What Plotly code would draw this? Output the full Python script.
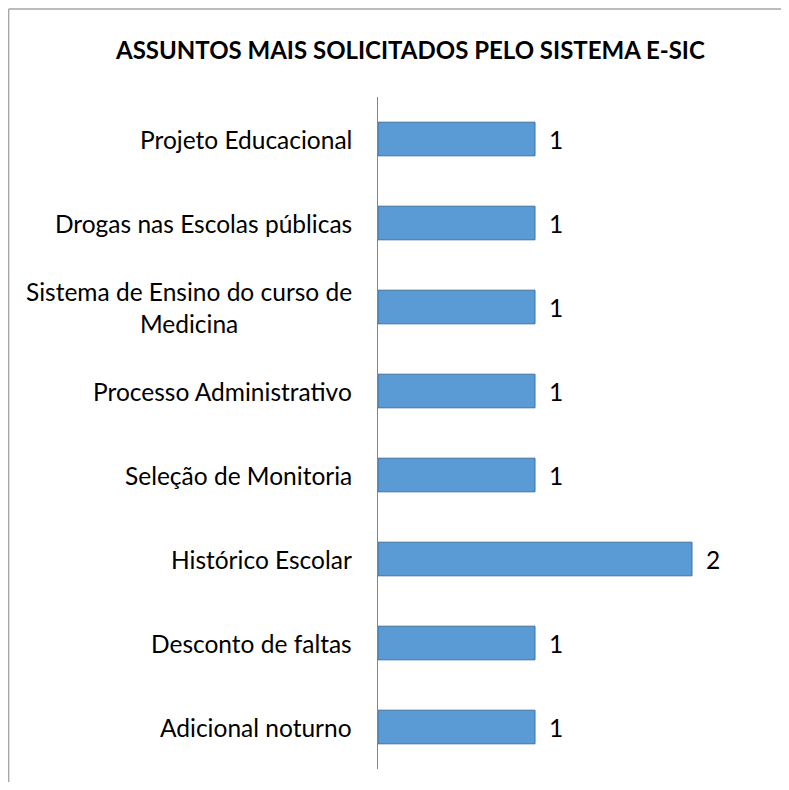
import plotly.graph_objects as go

categories = [
    "Projeto Educacional",
    "Drogas nas Escolas públicas",
    "Sistema de Ensino do curso de<br>Medicina",
    "Processo Administrativo",
    "Seleção de Monitoria",
    "Histórico Escolar",
    "Desconto de faltas",
    "Adicional noturno",
]
values = [1, 1, 1, 1, 1, 2, 1, 1]
title_text = "ASSUNTOS MAIS SOLICITADOS PELO SISTEMA E-SIC"

# page body has an 8px margin, so the figure is drawn 8px in from the window edge
OFF = 8
W, H = 789 - 2 * OFF, 790 - 2 * OFF
L = 378 - OFF
T = 97 - OFF
R = 3
B = H - (769 - OFF)
plot_w = W - L - R
plot_h = H - T - B
px_per_unit = 157.0
xmax = plot_w / px_per_unit

FONT = "Lato"
FS = 24.5
FS_TITLE = 24

fig = go.Figure()
fig.add_trace(go.Bar(
    y=categories,
    x=values,
    orientation="h",
    marker=dict(color="#5b9bd5", line=dict(color="#41719c", width=1)),
    hoverinfo="x+y",
))

annotations = []
for c, v in zip(categories, values):
    annotations.append(dict(
        x=0, y=c, xref="x", yref="y", text=c, showarrow=False,
        xanchor="right", yanchor="middle", align="center", xshift=-24,
        font=dict(family=FONT, size=FS, color="#000000"),
    ))
    annotations.append(dict(
        x=v, y=c, xref="x", yref="y", text=str(v), showarrow=False,
        xanchor="left", yanchor="middle", xshift=12,
        font=dict(family=FONT, size=FS, color="#000000"),
    ))

annotations.append(dict(
    x=(410 - OFF - L) / plot_w, y=1 + (T - (50 - OFF)) / plot_h, xref="paper", yref="paper",
    text="<b>" + title_text + "</b>", showarrow=False,
    xanchor="center", yanchor="middle",
    font=dict(family=FONT, size=FS_TITLE, color="#000000"),
))

left_x = (0.6 - L) / plot_w
top_y = 1 + (T - 1.0) / plot_h

fig.update_layout(
    width=W, height=H,
    margin=dict(l=L, r=R, t=T, b=B, pad=0),
    paper_bgcolor="white", plot_bgcolor="white",
    showlegend=False,
    bargap=0.6,
    xaxis=dict(range=[0, xmax], visible=False, showgrid=False, zeroline=False, fixedrange=True),
    yaxis=dict(
        categoryorder="array", categoryarray=categories, autorange="reversed",
        showticklabels=False, showgrid=False, zeroline=False,
        showline=True, linecolor="#868686", linewidth=1, ticks="",
    ),
    annotations=annotations,
    shapes=[
        dict(type="line", xref="paper", yref="paper",
             x0=left_x, x1=left_x, y0=-0.5, y1=top_y,
             line=dict(color="#a6a6a6", width=1.5), layer="below"),
        dict(type="line", xref="paper", yref="paper",
             x0=left_x, x1=1.5, y0=top_y, y1=top_y,
             line=dict(color="#a6a6a6", width=1.5), layer="below"),
    ],
)

fig.write_html("out.html")
